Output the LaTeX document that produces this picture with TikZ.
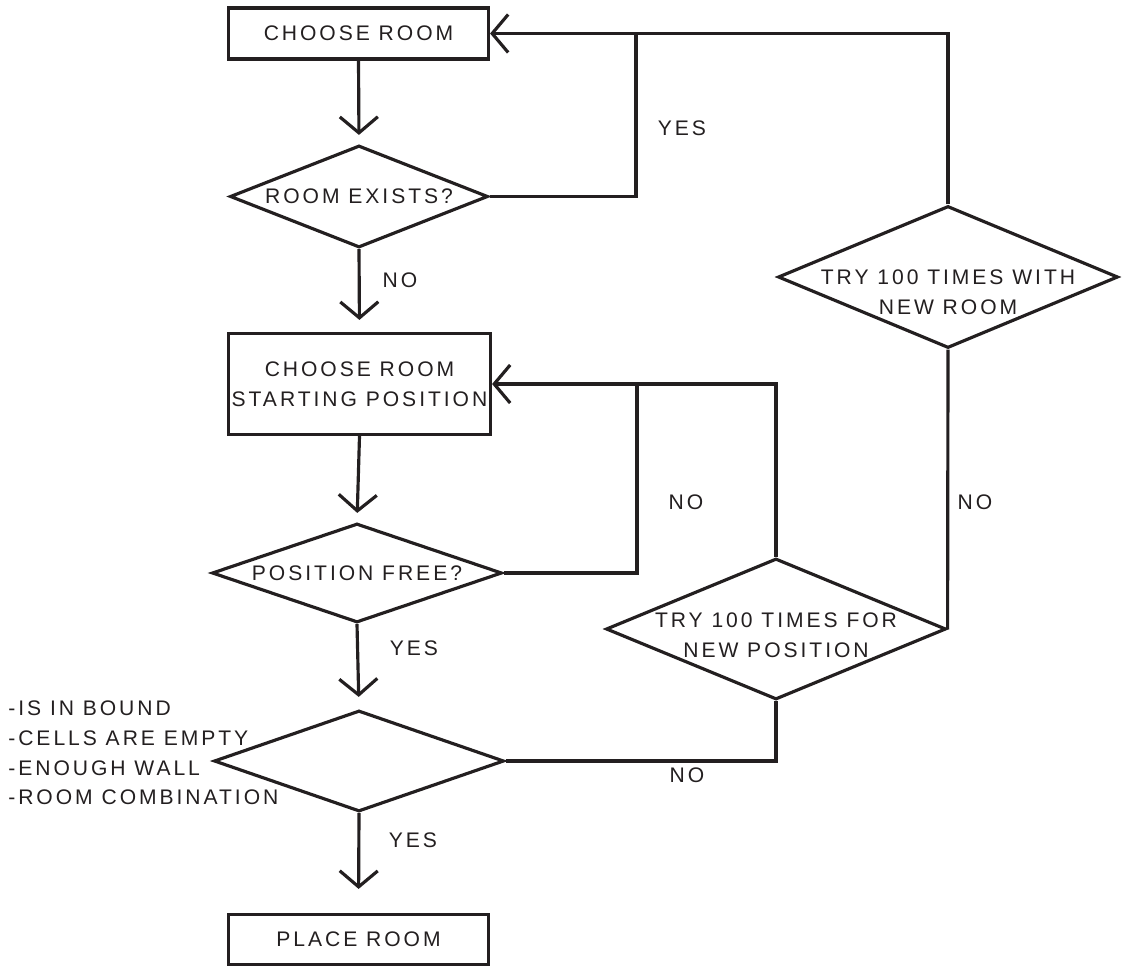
\documentclass[tikz,border=0pt]{standalone}
\usepackage{fontspec}
\setmainfont{Liberation Sans}[LetterSpace=14]
\usetikzlibrary{shapes.geometric,arrows.meta}
\definecolor{ink}{RGB}{35,31,32}

\begin{document}
\begin{tikzpicture}[x=0.2mm, y=-0.2mm,
  every node/.style={text=ink, font=\fontsize{12}{16.8}\selectfont},
  box/.style={draw=ink, line width=1.8pt, rectangle, inner sep=1pt, align=center},
  decision/.style={draw=ink, line width=1.8pt, diamond, inner sep=-1cm, align=center},
  flow/.style={draw=ink, line width=1.8pt},
  flowarrow/.style={flow, -{Straight Barb[length=3.2mm, width=7.6mm]}},
  lbl/.style={inner sep=0pt}]
  \useasboundingbox (0,0) rectangle (1130,967);
  % main column
  \node[box, minimum width=5.2cm, minimum height=1.02cm] (choose) at (358.5,33.5) {CHOOSE ROOM};
  \node[decision, minimum width=5.16cm, minimum height=2.04cm] (exists) at (359,196.5) {ROOM EXISTS?};
  \node[box, minimum width=5.24cm, minimum height=2.02cm] (start) at (359.5,384) {CHOOSE ROOM\\STARTING POSITION};
  \node[decision, minimum width=5.8cm, minimum height=1.98cm] (free) at (357,573) {POSITION FREE?};
  \node[decision, minimum width=5.8cm, minimum height=2.02cm] (check) at (359,761) {};
  \node[box, minimum width=5.2cm, minimum height=1cm] (place) at (358.5,939.5) {PLACE ROOM};
  \node[lbl, anchor=west, align=left] (conds) at (8,753) {-IS IN BOUND\\-CELLS ARE EMPTY\\-ENOUGH WALL\\-ROOM COMBINATION};
  % retry column
  \node[decision, minimum width=6.8cm, minimum height=2.82cm, text height=1.14cm, text depth=0pt] (newpos) at (776,629) {\begin{tabular}[b]{@{}c@{}}TRY 100 TIMES FOR\\NEW POSITION\end{tabular}};
  \node[decision, minimum width=6.8cm, minimum height=2.84cm, text height=1.5cm, text depth=0pt] (newroom) at (948,277) {\begin{tabular}[b]{@{}c@{}}TRY 100 TIMES WITH\\NEW ROOM\end{tabular}};
  % downward flow
  \draw[flowarrow, shorten >=0.18cm] (choose.south) -- (exists.north);
  \draw[flowarrow, shorten >=0.24cm] (exists.south) -- (start.north);
  \draw[flowarrow, shorten >=0.18cm] (start.south) -- (free.north);
  \draw[flowarrow, shorten >=0.24cm] (free.south) -- (check.north);
  \draw[flowarrow, shorten >=0.48cm] (check.south) -- (place.north);
  % loops back
  \coordinate (jroom) at (636,33.5);
  \coordinate (jpos) at (637,384);
  \draw[flowarrow] (newroom.north) |- (choose.east);
  \draw[flow] (exists.east) -| (jroom);
  \draw[flowarrow] (newpos.north) |- (start.east);
  \draw[flow] (free.east) -| (jpos);
  \draw[flow] (check.east) -| (newpos.south);
  \draw[flow] (newpos.east) -- (newroom.south);
  % labels
  \node[lbl] (yesroom) at (682,128) {YES};
  \node[lbl] (noroom) at (400,280) {NO};
  \node[lbl] (nofree) at (686,502) {NO};
  \node[lbl] (yesfree) at (414,648) {YES};
  \node[lbl] (noretry) at (975,502) {NO};
  \node[lbl] (nocheck) at (687,775) {NO};
  \node[lbl] (yescheck) at (413,840) {YES};
\end{tikzpicture}
\end{document}
